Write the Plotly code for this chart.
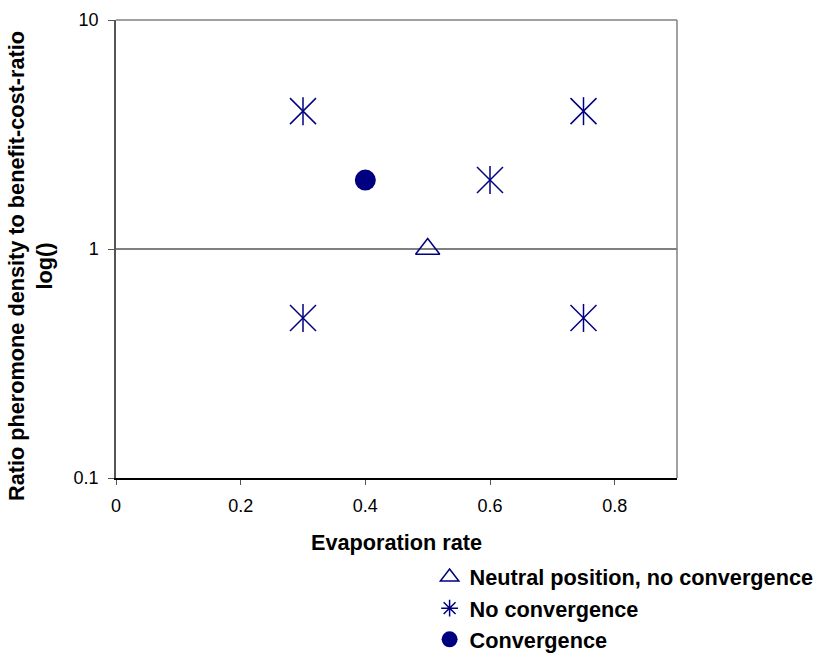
import plotly.graph_objects as go

# Data
neutral_x = [0.5]
neutral_y = [1]
noconv_x = [0.3, 0.75, 0.6, 0.3, 0.75]
noconv_y = [4, 4, 2, 0.5, 0.5]
conv_x = [0.4]
conv_y = [2]
x_ticks = [0, 0.2, 0.4, 0.6, 0.8]
y_ticks = [0.1, 1, 10]

NAVY = "#000080"
FONT = "Arial, Liberation Sans, sans-serif"
TITLE_SIZE = 21.7

fig = go.Figure()
fig.add_trace(go.Scatter(x=neutral_x, y=neutral_y, mode="markers",
                         name="Neutral position, no convergence", legendgroup="a",
                         marker=dict(symbol="triangle-up-open", size=21, color=NAVY,
                                     line=dict(color=NAVY, width=1.5))))
# "No convergence": Excel-style star (X plus vertical bar)
fig.add_trace(go.Scatter(x=noconv_x, y=noconv_y, mode="markers",
                         name="No convergence", legendgroup="b", showlegend=False,
                         marker=dict(symbol="x-thin-open", size=26, color=NAVY,
                                     line=dict(color=NAVY, width=1.5))))
fig.add_trace(go.Scatter(x=noconv_x, y=noconv_y, mode="markers",
                         name="No convergence", legendgroup="b", showlegend=False,
                         marker=dict(symbol="line-ns-open", size=20, color=NAVY,
                                     line=dict(color=NAVY, width=1.5))))
# legend entry for the star series
fig.add_trace(go.Scatter(x=[None], y=[None], mode="markers",
                         name="No convergence", legendgroup="b",
                         marker=dict(symbol="asterisk-open", size=14, color=NAVY,
                                     line=dict(color=NAVY, width=1.5))))
fig.add_trace(go.Scatter(x=conv_x, y=conv_y, mode="markers",
                         name="Convergence", legendgroup="c",
                         marker=dict(symbol="circle", size=21, color=NAVY,
                                     line=dict(color=NAVY, width=0))))

# horizontal line at y=1
fig.add_shape(type="line", xref="paper", yref="y", x0=0, x1=1, y0=1, y1=1,
              line=dict(color="#808080", width=2), layer="below")
# top and right border
fig.add_shape(type="line", xref="paper", yref="paper", x0=0, x1=1, y0=1, y1=1,
              line=dict(color="#808080", width=1.5))
fig.add_shape(type="line", xref="paper", yref="paper", x0=1, x1=1, y0=0, y1=1,
              line=dict(color="#808080", width=1.5))

# y-axis title (placed like the reference, slightly below plot centre)
fig.add_annotation(text="<b>Ratio pheromone density to benefit-cost-ratio<br>log()</b>",
                   xref="paper", yref="paper", x=-0.1515, y=0.463,
                   xanchor="center", yanchor="middle", textangle=-90, showarrow=False,
                   font=dict(family=FONT, size=TITLE_SIZE, color="black"))

fig.update_layout(
    width=818, height=654,
    margin=dict(l=116, r=141, t=20, b=176, autoexpand=False),
    paper_bgcolor="white", plot_bgcolor="white",
    font=dict(family=FONT, color="black"),
    showlegend=True,
    legend=dict(x=0.559, y=-0.171, xanchor="left", yanchor="top",
                font=dict(family=FONT, size=TITLE_SIZE, color="black", weight="bold"),
                traceorder="grouped", tracegroupgap=0,
                bgcolor="rgba(0,0,0,0)", itemwidth=30),
    xaxis=dict(range=[0, 0.9], tickvals=x_ticks, ticktext=["0", "0.2", "0.4", "0.6", "0.8"],
               automargin=False,
               showgrid=False, zeroline=False, showline=True, linecolor="black", linewidth=1.5,
               ticks="outside", ticklen=5, tickcolor="#555", tickfont=dict(size=18),
               ticklabelstandoff=6,
               title=dict(text="<b>Evaporation rate</b>", font=dict(size=TITLE_SIZE), standoff=19)),
    yaxis=dict(type="log", range=[-1, 1], tickvals=y_ticks, ticktext=["0.1", "1", "10"],
               automargin=False,
               showgrid=False, zeroline=False, showline=True, linecolor="#555", linewidth=1.5,
               ticks="outside", ticklen=6, tickcolor="#555", tickfont=dict(size=18),
               ticklabelstandoff=6),
)

fig.write_html("out.html", config={"displayModeBar": False},
               post_script="document.body.style.margin='0';")
